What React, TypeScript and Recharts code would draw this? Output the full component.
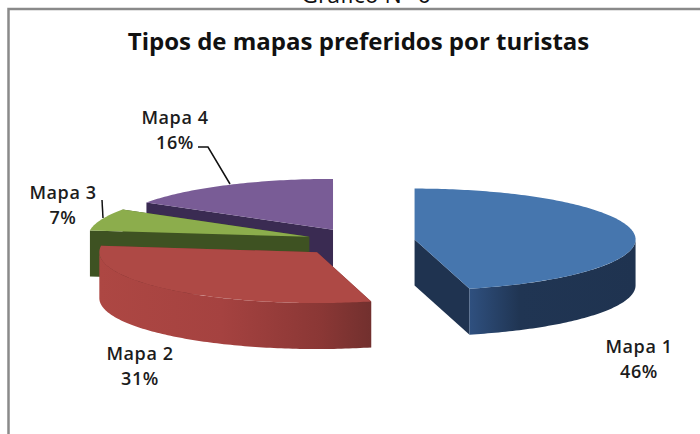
import React from "react";
import { PieChart, Pie } from "recharts";

const categories = ["Mapa 1", "Mapa 2", "Mapa 3", "Mapa 4"];
const shares = [46, 31, 7, 16];
const topColors = ["#4676ae", "#ae4945", "#8cad4c", "#795c96"];
const faceColors = ["#1f3350", "#7a3230", "#3e5222", "#3a2b52"];
const wallStops = [
  [["0%", "#2f507f"], ["30%", "#203553"], ["100%", "#1f3350"]],
  [["0%", "#ad4743"], ["45%", "#a54240"], ["82%", "#8a3735"], ["100%", "#72302e"]],
  [["0%", "#3e5222"], ["100%", "#3e5222"]],
  [["0%", "#3a2b52"], ["100%", "#3a2b52"]],
];
const explodeBy = [55, 65, 54, 56];
const radiusScale = [1, 0.985, 1, 1];
const labelAnchors = [
  [639, 353],
  [140, 360],
  [63, 199],
  [175, 124],
];
const TITLE = "Tipos de mapas preferidos por turistas";
const HEADING = "Gráfico N° 6";

// Drawn back to front: Mapa 4, 3, 2, 1, laid out anticlockwise from 12 o'clock.
const rows = categories
  .map((name, i) => ({ name, value: shares[i], series: i }))
  .reverse();

const FLATTEN = 0.23;
const DEPTH = 46;
const FONT = "'Open Sans', 'Noto Sans', sans-serif";

function rad(d: number) {
  return (d * Math.PI) / 180;
}

function Slice3D(props: any) {
  const { cx, cy, outerRadius, startAngle, endAngle, payload } = props;
  const s = payload.series;
  const a = outerRadius * radiusScale[s];
  const b = outerRadius * FLATTEN;
  const lo = Math.min(startAngle, endAngle);
  const hi = Math.max(startAngle, endAngle);
  const mid = rad((lo + hi) / 2);
  const ox = cx + explodeBy[s] * Math.cos(mid);
  const oy = cy - explodeBy[s] * FLATTEN * Math.sin(mid);
  const pt = (deg: number, dz = 0) => [
    ox + a * Math.cos(rad(deg)),
    oy - b * Math.sin(rad(deg)) + dz,
  ];
  const arc = (from: number, to: number, dz = 0) => {
    const out: string[] = [];
    const steps = Math.max(2, Math.ceil(Math.abs(to - from)));
    for (let i = 0; i <= steps; i++) {
      const p = pt(from + ((to - from) * i) / steps, dz);
      out.push(`${p[0].toFixed(2)},${p[1].toFixed(2)}`);
    }
    return out;
  };
  const face = (deg: number) => {
    const p = pt(deg);
    const q = pt(deg, DEPTH);
    return `${ox},${oy} ${p[0]},${p[1]} ${q[0]},${q[1]} ${ox},${oy + DEPTH}`;
  };
  // visible part of the rim: angles whose sine is negative (front half)
  const ranges: [number, number][] = [];
  [-360, 0, 360].forEach((k) => {
    const f = Math.max(lo, 180 + k);
    const t = Math.min(hi, 360 + k);
    if (t > f) ranges.push([f, t]);
  });
  const gid = `wall-${s}`;
  return (
    <g>
      <defs>
        <linearGradient id={gid} x1="0" y1="0" x2="1" y2="0">
          {wallStops[s].map(([o, c]) => (
            <stop key={o} offset={o} stopColor={c} />
          ))}
        </linearGradient>
      </defs>
      <polygon points={face(lo)} fill={faceColors[s]} />
      <polygon points={face(hi)} fill={faceColors[s]} />
      {ranges.map(([f, t]) => (
        <polygon
          key={f}
          points={[...arc(f, t), ...arc(t, f, DEPTH)].join(" ")}
          fill={`url(#${gid})`}
        />
      ))}
      <polygon
        points={[`${ox},${oy}`, ...arc(lo, hi)].join(" ")}
        fill={topColors[s]}
      />
    </g>
  );
}

function SliceLabel(props: any) {
  const s = props.payload?.series ?? props.series;
  const [x, y] = labelAnchors[s];
  return (
    <text
      x={x}
      y={y}
      textAnchor="middle"
      fontFamily={FONT}
      fontWeight={600}
      fontSize={18}
      letterSpacing={0.6}
      fill="#1c1c1c"
    >
      <tspan x={x}>{categories[s]}</tspan>
      <tspan x={x} dy={25}>{`${shares[s]}%`}</tspan>
    </text>
  );
}

export default function App() {
  return (
    <div style={{ position: "absolute", left: 0, top: 0, width: 700, height: 434, background: "#fff", overflow: "hidden" }}>
      <PieChart width={700} height={434} margin={{ top: 0, right: 0, bottom: 0, left: 0 }}>
        <path d="M8.5 434 V9 H700" fill="none" stroke="#8a8a8a" strokeWidth={2.5} />
        <text x={366} y={3} textAnchor="middle" fontFamily={FONT} fontSize={23} fill="#111">
          {HEADING}
        </text>
        <text x={358.5} y={50} textAnchor="middle" fontFamily={FONT} fontWeight={700} fontSize={24} fill="#111">
          {TITLE}
        </text>
        <Pie
          data={rows}
          dataKey="value"
          nameKey="name"
          cx={360}
          cy={241}
          innerRadius={0}
          outerRadius={221}
          startAngle={90}
          endAngle={450}
          paddingAngle={0}
          stroke="none"
          isAnimationActive={false}
          shape={Slice3D}
          label={SliceLabel}
          labelLine={false}
        />
        <polyline points="198,147 208,147 230,184" fill="none" stroke="#111" strokeWidth={1.5} />
        <polyline points="102,200 103,218" fill="none" stroke="#111" strokeWidth={1.5} />
      </PieChart>
    </div>
  );
}
